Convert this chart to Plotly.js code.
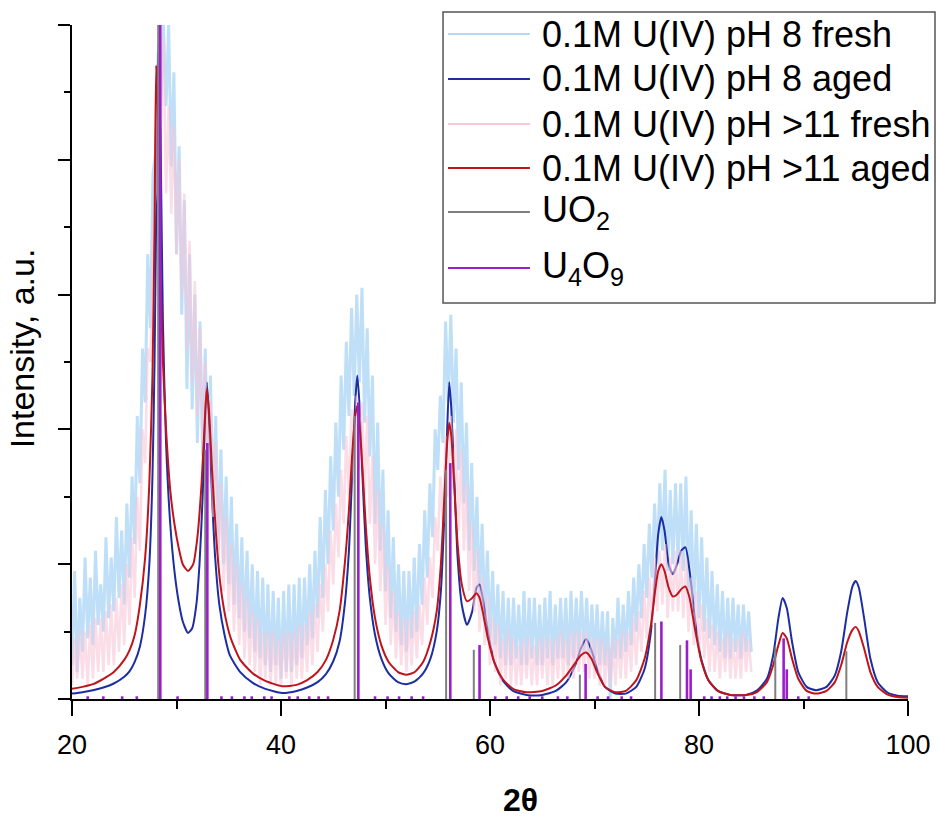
<!DOCTYPE html>
<html><head><meta charset="utf-8">
<script src="https://cdn.plot.ly/plotly-3.0.1.min.js"></script>
<style>html,body{margin:0;padding:0;background:#fff}#chart{width:937px;height:821px}</style>
</head><body><div id="chart"></div>
<script>
// ---- series names ----
const seriesNames = ["0.1M U(IV) pH 8 fresh", "0.1M U(IV) pH 8 aged", "0.1M U(IV) pH >11 fresh", "0.1M U(IV) pH >11 aged", "UO<sub>2</sub>", "U<sub>4</sub>O<sub>9</sub>"];
const seriesColors = ["#b3d9f6", "#1c2ea0", "#f9c6d9", "#c0141c", "#7f7f7f", "#9a1fc9"];

// ---- fresh (noisy) patterns, sampled every 0.25 deg from 20 to 85 ----
const freshStart = 20, freshStep = 0.25;
const pH8Fresh = [
0.05,0.19,0.04,0.15, 0.07,0.21,0.09,0.18, 0.08,0.22,0.11,0.17, 0.10,0.24,0.12,0.21, 0.13,0.27,0.15,0.25,
0.14,0.29,0.18,0.33, 0.23,0.42,0.32,0.52, 0.44,0.66,0.55,0.78, 0.81,0.96,0.88,1.00, 0.88,1.00,0.79,0.93,
0.66,0.82,0.57,0.74, 0.46,0.66,0.43,0.60, 0.38,0.56,0.36,0.52, 0.33,0.48,0.28,0.42, 0.22,0.37,0.20,0.33,
0.17,0.30,0.14,0.26, 0.12,0.24,0.10,0.22, 0.09,0.20,0.07,0.19, 0.06,0.18,0.05,0.17, 0.04,0.16,0.05,0.15,
0.03,0.16,0.04,0.17, 0.04,0.17,0.05,0.18, 0.06,0.18,0.08,0.20, 0.09,0.22,0.12,0.27, 0.15,0.31,0.20,0.36,
0.25,0.41,0.30,0.48, 0.37,0.53,0.42,0.58, 0.45,0.60,0.47,0.61, 0.41,0.55,0.36,0.48, 0.26,0.41,0.22,0.34,
0.16,0.28,0.12,0.24, 0.10,0.20,0.08,0.19, 0.07,0.19,0.09,0.21, 0.10,0.23,0.14,0.28, 0.18,0.32,0.24,0.40,
0.34,0.45,0.38,0.56, 0.44,0.57,0.41,0.52, 0.34,0.47,0.29,0.41, 0.22,0.35,0.19,0.30, 0.15,0.26,0.12,0.22,
0.09,0.19,0.08,0.17, 0.06,0.16,0.05,0.15, 0.05,0.15,0.06,0.14, 0.05,0.16,0.05,0.15, 0.06,0.15,0.05,0.14,
0.05,0.15,0.06,0.16, 0.05,0.14,0.06,0.15, 0.06,0.15,0.05,0.16, 0.06,0.15,0.07,0.16, 0.07,0.15,0.06,0.14,
0.06,0.14,0.05,0.13, 0.05,0.13,0.00,0.12, 0.06,0.15,0.06,0.14, 0.07,0.16,0.08,0.18, 0.10,0.20,0.12,0.23,
0.15,0.26,0.18,0.29, 0.20,0.32,0.22,0.34, 0.19,0.31,0.20,0.32, 0.20,0.32,0.19,0.33, 0.16,0.28,0.14,0.26,
0.12,0.24,0.10,0.21, 0.09,0.19,0.08,0.17, 0.07,0.16,0.06,0.15, 0.06,0.15,0.07,0.14, 0.06,0.14,0.07,0.13,
0.07];
const pH11Fresh = [
0.02,0.09,0.03,0.10, 0.03,0.10,0.02,0.11, 0.03,0.12,0.04,0.12, 0.04,0.13,0.05,0.14, 0.05,0.15,0.07,0.17,
0.08,0.20,0.11,0.24, 0.15,0.30,0.22,0.40, 0.35,0.52,0.50,0.70, 0.75,0.92,0.85,0.98, 0.75,0.88,0.72,0.85,
0.66,0.80,0.60,0.75, 0.52,0.68,0.47,0.62, 0.42,0.55,0.38,0.50, 0.32,0.44,0.27,0.38, 0.20,0.32,0.16,0.27,
0.13,0.23,0.10,0.20, 0.08,0.17,0.06,0.15, 0.05,0.13,0.04,0.12, 0.02,0.10,0.03,0.10, 0.02,0.10,0.02,0.09,
0.02,0.10,0.03,0.10, 0.02,0.10,0.03,0.11, 0.03,0.11,0.04,0.13, 0.05,0.14,0.07,0.17, 0.10,0.20,0.13,0.25,
0.17,0.29,0.21,0.34, 0.26,0.39,0.30,0.43, 0.32,0.45,0.34,0.44, 0.30,0.42,0.26,0.36, 0.20,0.31,0.16,0.26,
0.11,0.20,0.08,0.16, 0.06,0.13,0.05,0.12, 0.04,0.12,0.05,0.13, 0.06,0.14,0.08,0.18, 0.11,0.21,0.15,0.27,
0.22,0.33,0.26,0.39, 0.30,0.42,0.31,0.40, 0.25,0.37,0.22,0.32, 0.16,0.26,0.13,0.22, 0.10,0.18,0.08,0.15,
0.05,0.12,0.04,0.11, 0.02,0.09,0.03,0.10, 0.02,0.09,0.02,0.08, 0.02,0.09,0.03,0.09, 0.02,0.08,0.02,0.09,
0.03,0.09,0.02,0.09, 0.02,0.09,0.03,0.10, 0.03,0.09,0.03,0.10, 0.03,0.10,0.04,0.10, 0.04,0.10,0.03,0.09,
0.03,0.09,0.02,0.09, 0.02,0.08,0.02,0.09, 0.02,0.09,0.03,0.10, 0.03,0.10,0.04,0.12, 0.05,0.13,0.07,0.16,
0.09,0.18,0.11,0.21, 0.13,0.22,0.14,0.23, 0.12,0.21,0.13,0.22, 0.13,0.22,0.12,0.21, 0.10,0.18,0.08,0.16,
0.07,0.14,0.06,0.12, 0.04,0.11,0.04,0.10, 0.03,0.09,0.04,0.10, 0.03,0.09,0.03,0.09, 0.03,0.10,0.04,0.09,
0.04];

// ---- aged (smooth) patterns ----
const pH8AgedX = [20,21,22,23,24,25,25.5,26,26.5,27,27.4,27.7,27.9,28.1,28.3,28.5,28.7,29.0,29.4,29.8,30.2,30.6,31.1,31.5,31.9,32.2,32.5,32.7,32.9,33.1,33.4,33.7,34.1,34.6,35.1,36.1,37.3,38.5,40.1,
41.5,42.5,43.5,44.3,45.0,45.6,46.1,46.5,46.8,47.1,47.3,47.5,47.8,48.1,48.5,49.0,49.6,50.3,51.2,52.0,52.8,53.6,54.3,54.9,55.3,55.6,55.9,56.1,56.3,56.6,56.9,57.3,57.8,58.3,58.7,59.0,59.3,59.8,
60.4,61.2,62.2,63.5,65.0,66.3,67.3,68.1,68.7,69.2,69.7,70.3,71.0,72.0,73.0,74.0,74.8,75.4,75.8,76.1,76.4,76.7,77.1,77.5,77.9,78.3,78.7,79.1,79.6,
80.2,80.9,81.8,83.0,84.5,85.5,86.5,87.1,87.6,88.0,88.4,88.9,89.5,90.3,91.2,92.2,93.0,93.6,94.2,94.7,95.0,95.3,95.8,96.4,97.1,98.0,99.0,100];
const pH8AgedY = [0.008,0.010,0.013,0.017,0.023,0.033,0.041,0.055,0.078,0.125,0.20,0.33,0.50,0.78,0.99,0.80,0.56,0.38,0.26,0.19,0.145,0.115,0.098,0.105,0.14,0.20,0.30,0.40,0.47,0.42,0.30,0.21,0.14,0.095,0.065,0.040,0.024,0.015,0.009,
0.012,0.017,0.025,0.037,0.056,0.085,0.14,0.22,0.33,0.44,0.48,0.44,0.33,0.23,0.15,0.095,0.060,0.038,0.025,0.022,0.026,0.038,0.060,0.10,0.16,0.26,0.40,0.47,0.43,0.32,0.21,0.14,0.11,0.13,0.165,0.17,0.15,0.10,
0.055,0.028,0.012,0.006,0.006,0.012,0.025,0.048,0.075,0.089,0.073,0.042,0.018,0.008,0.008,0.018,0.045,0.10,0.18,0.245,0.27,0.25,0.20,0.185,0.20,0.22,0.225,0.19,0.12,
0.060,0.028,0.012,0.006,0.006,0.012,0.030,0.065,0.12,0.15,0.135,0.085,0.040,0.018,0.013,0.018,0.035,0.070,0.13,0.168,0.175,0.165,0.12,0.060,0.025,0.010,0.005,0.004];
const pH11AgedX = [20,21,22,23,24,25,25.5,26,26.5,27,27.4,27.7,27.9,28.05,28.2,28.4,28.7,29.0,29.4,29.8,30.2,30.6,31.1,31.6,32.0,32.4,32.7,32.9,33.1,33.4,33.8,34.2,34.7,35.2,36.1,37.3,38.5,40.1,
41.5,42.5,43.5,44.3,45.0,45.6,46.1,46.5,46.8,47.1,47.3,47.5,47.8,48.1,48.5,49.0,49.6,50.3,51.2,52.0,52.8,53.6,54.3,54.9,55.3,55.6,55.9,56.1,56.3,56.6,56.9,57.3,57.8,58.3,58.7,59.0,59.3,59.8,
60.4,61.2,62.2,63.5,65.0,66.3,67.3,68.1,68.7,69.2,69.7,70.3,71.0,72.0,73.0,74.0,74.8,75.4,75.8,76.1,76.4,76.7,77.1,77.5,77.9,78.3,78.7,79.1,79.6,
80.2,80.9,81.8,83.0,84.5,85.5,86.5,87.1,87.6,88.0,88.4,88.9,89.5,90.3,91.2,92.2,93.0,93.6,94.2,94.7,95.0,95.3,95.8,96.4,97.1,98.0,99.0,100];
const pH11AgedY = [0.015,0.018,0.022,0.030,0.040,0.058,0.072,0.095,0.14,0.21,0.32,0.48,0.70,0.94,0.88,0.68,0.50,0.40,0.31,0.26,0.225,0.20,0.19,0.20,0.24,0.32,0.41,0.46,0.43,0.34,0.24,0.17,0.12,0.09,0.058,0.038,0.027,0.019,
0.021,0.028,0.040,0.058,0.088,0.13,0.20,0.28,0.36,0.42,0.435,0.41,0.34,0.26,0.18,0.12,0.080,0.055,0.040,0.036,0.040,0.055,0.085,0.13,0.20,0.29,0.38,0.41,0.39,0.31,0.23,0.17,0.145,0.15,0.157,0.15,0.13,0.09,
0.055,0.030,0.015,0.010,0.012,0.020,0.035,0.052,0.065,0.069,0.060,0.038,0.018,0.010,0.012,0.028,0.060,0.11,0.16,0.19,0.20,0.19,0.165,0.152,0.155,0.163,0.167,0.15,0.105,
0.058,0.028,0.012,0.006,0.006,0.010,0.025,0.050,0.080,0.098,0.090,0.060,0.030,0.012,0.008,0.012,0.025,0.050,0.085,0.103,0.107,0.10,0.075,0.040,0.018,0.007,0.003,0.002];

// ---- reference stick patterns ----
const uo2Pos = [28.25, 32.75, 47.05, 55.8, 58.45, 68.6, 75.8, 78.2, 87.3, 94.1];
const uo2Int = [1.0, 0.37, 0.42, 0.34, 0.073, 0.036, 0.113, 0.08, 0.077, 0.071];
const u4o9Pos = [28.45, 32.95, 47.4, 56.2, 59.0, 69.15, 76.4, 78.85, 79.2, 88.1, 88.4,
  21.5, 23.0, 24.8, 26.2, 30.1, 34.3, 35.3, 36.5, 37.2, 38.4, 39.1, 40.8, 41.6, 42.7, 43.6, 44.5,
  49.0, 50.2, 51.3, 52.5, 53.6, 60.5, 61.6, 62.7, 63.8, 65.0, 66.5, 67.4, 70.3, 71.3, 72.6, 73.5,
  80.5, 81.2, 82.0, 82.7, 83.5, 84.3, 85.3, 86.2, 89.5, 90.5];
const u4o9Int = [1.0, 0.38, 0.44, 0.35, 0.08, 0.052, 0.115, 0.087, 0.044, 0.09, 0.044,
  0.004,0.004,0.004,0.004,0.004,0.004,0.004,0.004,0.004,0.004,0.004,0.004,0.004,0.004,0.004,0.004,
  0.004,0.004,0.004,0.004,0.004,0.004,0.004,0.004,0.004,0.004,0.004,0.004,0.004,0.004,0.004,0.004,
  0.004,0.004,0.004,0.004,0.004,0.004,0.004,0.004,0.004,0.004];

const xTickVals = [20, 40, 60, 80, 100];
const xTitle = "<b>2θ</b>";
const yTitle = "Intensity, a.u.";

// ---- build traces ----
const freshX = pH8Fresh.map((_, i) => freshStart + i * freshStep);
function sticks(pos, inten) {
  const x = [], y = [];
  pos.forEach((p, i) => { x.push(p, p, null); y.push(0, inten[i], null); });
  return {x, y};
}
const uo2 = sticks(uo2Pos, uo2Int);
const u4o9 = sticks(u4o9Pos, u4o9Int);

const traces = [
  {x: freshX, y: pH8Fresh, name: seriesNames[0], mode: "lines", line: {color: seriesColors[0], width: 3}, opacity: 0.85},
  {x: pH8AgedX, y: pH8AgedY, name: seriesNames[1], mode: "lines", line: {color: seriesColors[1], width: 2, shape: "spline", smoothing: 0.6}},
  {x: freshX, y: pH11Fresh, name: seriesNames[2], mode: "lines", line: {color: seriesColors[2], width: 2.6}, opacity: 0.6},
  {x: pH11AgedX, y: pH11AgedY, name: seriesNames[3], mode: "lines", line: {color: seriesColors[3], width: 2, shape: "spline", smoothing: 0.6}},
  {x: uo2.x, y: uo2.y, name: seriesNames[4], mode: "lines", line: {color: seriesColors[4], width: 2}},
  {x: u4o9.x, y: u4o9.y, name: seriesNames[5], mode: "lines", line: {color: seriesColors[5], width: 2.6}}
];

// ---- custom legend (Origin style) ----
const legRowsY = [0.9866, 0.9199, 0.8531, 0.7878, 0.7226, 0.6395];
const shapes = [{type: "rect", xref: "paper", yref: "paper", x0: 0.4438, x1: 1.0323, y0: 0.5875, y1: 1.0193,
  line: {color: "#555", width: 1.5}, fillcolor: "#fff", layer: "above"}];
const annotations = [];
seriesNames.forEach((n, i) => {
  shapes.push({type: "line", xref: "paper", yref: "paper", x0: 0.4498, x1: 0.5478, y0: legRowsY[i], y1: legRowsY[i],
    line: {color: seriesColors[i], width: 2}, layer: "above"});
  annotations.push({xref: "paper", yref: "paper", x: 0.5598, y: legRowsY[i], xanchor: "left", yanchor: "middle",
    text: n, showarrow: false, font: {size: 36, color: "#000"}});
});
annotations.push({xref: "paper", yref: "paper", x: 0.537, y: -0.15, xanchor: "center", yanchor: "middle",
  text: xTitle, showarrow: false, font: {size: 32, color: "#000"}});
annotations.push({xref: "paper", yref: "paper", x: -0.06, y: 0.52, xanchor: "center", yanchor: "middle", textangle: -90,
  text: yTitle, showarrow: false, font: {size: 34, color: "#000"}});

const layout = {
  width: 937, height: 821,
  margin: {l: 72, r: 29, t: 25, b: 122},
  paper_bgcolor: "#fff", plot_bgcolor: "#fff",
  font: {family: "Liberation Sans, Arial, sans-serif", color: "#000"},
  showlegend: false,
  xaxis: {range: [20, 100], tickvals: xTickVals, ticks: "outside", ticklen: 15, tickwidth: 2, tickcolor: "#000",
    showline: true, linecolor: "#000", linewidth: 2, showgrid: false, zeroline: false, ticklabelstandoff: 6,
    tickfont: {size: 27}, minor: {dtick: 10, tick0: 0, ticks: "outside", ticklen: 8, tickwidth: 2, tickcolor: "#000"}},
  yaxis: {range: [0, 1], dtick: 0.2, tick0: 0, ticks: "outside", ticklen: 12, tickwidth: 2, tickcolor: "#000",
    showline: true, linecolor: "#000", linewidth: 2, showgrid: false, zeroline: false, showticklabels: false,
    minor: {dtick: 0.1, tick0: 0, ticks: "outside", ticklen: 6, tickwidth: 2, tickcolor: "#000"}},
  shapes: shapes,
  annotations: annotations
};

Plotly.newPlot("chart", traces, layout, {displayModeBar: false, staticPlot: true});
</script></body></html>
